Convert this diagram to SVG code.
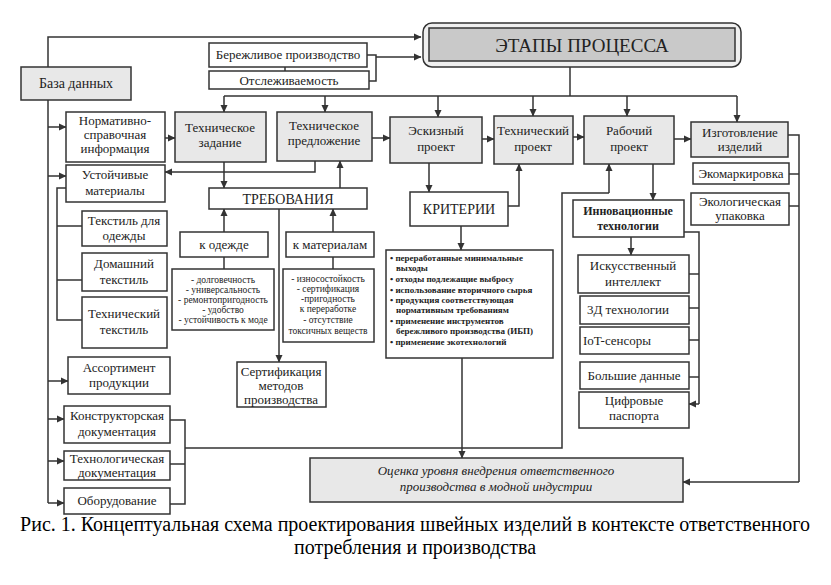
<svg xmlns="http://www.w3.org/2000/svg" width="831" height="585" viewBox="0 0 831 585">
<defs>
<marker id="ar" markerWidth="8" markerHeight="8" refX="7" refY="4" orient="auto" markerUnits="userSpaceOnUse">
<path d="M0,0.5 L7.5,4 L0,7.5 Z" fill="#333"/>
</marker>
<style>
rect{stroke:#333;stroke-width:1.5;fill:#fff}
.g{fill:#e8e8e8}
.c path,.c line,.c polyline{stroke:#333;stroke-width:1.5;fill:none}
.a{marker-end:url(#ar)}
text{font-family:'Liberation Serif', 'Times New Roman', serif;font-size:13px;fill:#222;text-anchor:middle}
.s{font-size:9.5px}
.k{font-size:9px;font-weight:bold;text-anchor:start}
.i{font-style:italic;font-size:13px}
.b{font-weight:bold;font-size:12px}
.cap{font-size:20px;fill:#000}
</style>
</defs>
<rect x="0" y="0" width="831" height="585" style="fill:#fff;stroke:none"/>

<g class="c" id="connectors">
<polyline class="a" points="48,67 48,37 421,37"/>
<polyline points="367,55 376,55 376,81 369,81"/>
<line class="a" x1="376" y1="57" x2="421" y2="57"/>
<line x1="285" y1="67" x2="285" y2="71"/>
<line x1="570" y1="67" x2="570" y2="96"/>
<line x1="224" y1="96" x2="737" y2="96"/>
<line class="a" x1="224" y1="96" x2="224" y2="112"/>
<line class="a" x1="325" y1="96" x2="325" y2="112"/>
<line class="a" x1="438" y1="96" x2="438" y2="117"/>
<line class="a" x1="533" y1="96" x2="533" y2="116"/>
<line class="a" x1="627" y1="96" x2="627" y2="116"/>
<line class="a" x1="737" y1="96" x2="737" y2="122"/>
<line class="a" x1="165" y1="138" x2="175" y2="138"/>
<line class="a" x1="372" y1="138" x2="390" y2="138"/>
<line class="a" x1="482" y1="139" x2="494" y2="139"/>
<line class="a" x1="573" y1="137" x2="584" y2="137"/>
<line class="a" x1="674" y1="139" x2="691" y2="139"/>
<line x1="48" y1="100" x2="48" y2="503"/>
<line class="a" x1="48" y1="127" x2="66" y2="127"/>
<line class="a" x1="48" y1="176" x2="66" y2="176"/>
<line class="a" x1="48" y1="381" x2="68" y2="381"/>
<line class="a" x1="48" y1="419" x2="64" y2="419"/>
<line class="a" x1="48" y1="461" x2="64" y2="461"/>
<line class="a" x1="48" y1="503" x2="64" y2="503"/>
<polyline points="66,188 57,188 57,320 82,320"/>
<line x1="57" y1="226" x2="82" y2="226"/>
<line x1="57" y1="280" x2="82" y2="280"/>
<line class="a" x1="224" y1="162" x2="224" y2="188"/>
<polyline class="a" points="315,161 315,172 165,172"/>
<line class="a" x1="340" y1="188" x2="340" y2="161"/>
<line class="a" x1="224" y1="232" x2="224" y2="209"/>
<line class="a" x1="333" y1="232" x2="333" y2="209"/>
<line x1="224" y1="257" x2="224" y2="269"/>
<line x1="333" y1="257" x2="333" y2="269"/>
<line class="a" x1="279" y1="209" x2="279" y2="362"/>
<line class="a" x1="429" y1="163" x2="429" y2="192"/>
<polyline class="a" points="508,206 519,206 519,164"/>
<line class="a" x1="461" y1="226" x2="461" y2="250"/>
<line class="a" x1="462" y1="358" x2="462" y2="458"/>
<polyline points="170,420 185,420 185,504 170,504"/>
<line x1="170" y1="464" x2="185" y2="464"/>
<polyline points="185,448 562,448 562,193 609,193"/>
<line class="a" x1="609" y1="193" x2="609" y2="164"/>
<line class="a" x1="653" y1="164" x2="653" y2="200"/>
<line class="a" x1="631" y1="237" x2="631" y2="255"/>
<polyline points="684,232 699,232 699,404"/>
<line class="a" x1="699" y1="404" x2="689" y2="404"/>
<line x1="689" y1="274" x2="699" y2="274"/>
<line x1="689" y1="308" x2="699" y2="308"/>
<line x1="689" y1="340" x2="699" y2="340"/>
<line x1="689" y1="377" x2="699" y2="377"/>
<polyline points="788,135 799,135 799,482"/>
<line class="a" x1="799" y1="482" x2="683" y2="482"/>
<line x1="789" y1="174" x2="799" y2="174"/>
<line x1="789" y1="206" x2="799" y2="206"/>
</g>

<g id="etapy">
<rect x="423" y="23" width="318" height="44" rx="9" style="fill:#efefef"/>
<rect x="429" y="28" width="306" height="33" style="fill:#c9c9c9"/>
<text x="582" y="52" style="font-size:19px">ЭТАПЫ ПРОЦЕССА</text>
</g>
<g id="baza"><rect class="g" x="21" y="67" width="110" height="33"/><text x="76" y="88" style="font-size:14px">База данных</text></g>
<g id="berezh"><rect x="209" y="43" width="158" height="24"/><text x="288" y="59">Бережливое производство</text></g>
<g id="otsl"><rect x="209" y="71" width="160" height="18"/><text x="289" y="85">Отслеживаемость</text></g>
<g id="norm"><rect x="66" y="112" width="99" height="50"/><text x="115" y="125">Нормативно-</text><text x="115" y="139">справочная</text><text x="115" y="153">информация</text></g>
<g id="tz"><rect class="g" x="175" y="112" width="91" height="50"/><text x="220" y="132">Техническое</text><text x="220" y="147">задание</text></g>
<g id="tp"><rect class="g" x="277" y="112" width="95" height="49"/><text x="324" y="130">Техническое</text><text x="324" y="145">предложение</text></g>
<g id="esk"><rect class="g" x="390" y="117" width="92" height="46"/><text x="436" y="135">Эскизный</text><text x="436" y="151">проект</text></g>
<g id="techpr"><rect class="g" x="494" y="116" width="79" height="48"/><text x="533" y="135">Технический</text><text x="533" y="151">проект</text></g>
<g id="rab"><rect class="g" x="584" y="116" width="90" height="48"/><text x="629" y="135">Рабочий</text><text x="629" y="151">проект</text></g>
<g id="izg"><rect class="g" x="691" y="122" width="97" height="35"/><text x="740" y="137">Изготовление</text><text x="740" y="151">изделий</text></g>
<g id="ekomark"><rect x="693" y="163" width="96" height="21"/><text x="741" y="178">Экомаркировка</text></g>
<g id="ekoup"><rect x="691" y="193" width="98" height="32"/><text x="740" y="206">Экологическая</text><text x="740" y="220">упаковка</text></g>
<g id="ustm"><rect x="66" y="165" width="99" height="37"/><text x="115" y="179">Устойчивые</text><text x="115" y="195">материалы</text></g>
<g id="tekstod"><rect x="82" y="211" width="85" height="35"/><text x="124" y="225">Текстиль для</text><text x="124" y="240">одежды</text></g>
<g id="domtek"><rect x="82" y="253" width="85" height="38"/><text x="124" y="268">Домашний</text><text x="124" y="284">текстиль</text></g>
<g id="tehtek"><rect x="82" y="297" width="85" height="51"/><text x="124" y="318">Технический</text><text x="124" y="334">текстиль</text></g>
<g id="assort"><rect x="68" y="357" width="102" height="37"/><text x="119" y="372">Ассортимент</text><text x="119" y="387">продукции</text></g>
<g id="konstr"><rect x="64" y="406" width="106" height="37"/><text x="117" y="420">Конструкторская</text><text x="117" y="436">документация</text></g>
<g id="tehnol"><rect x="64" y="451" width="106" height="29"/><text x="117" y="463">Технологическая</text><text x="117" y="477">документация</text></g>
<g id="obor"><rect x="64" y="488" width="106" height="26"/><text x="117" y="505">Оборудование</text></g>
<g id="treb"><rect x="209" y="188" width="158" height="21"/><text x="288" y="204" style="font-size:14px">ТРЕБОВАНИЯ</text></g>
<g id="kodezh"><rect x="180" y="232" width="88" height="25"/><text x="224" y="249">к одежде</text></g>
<g id="kmat"><rect x="286" y="232" width="88" height="25"/><text x="330" y="249">к материалам</text></g>
<g id="listod"><rect x="172" y="269" width="102" height="61"/>
<text class="s" x="223" y="283">- долговечность</text><text class="s" x="223" y="293">- универсальность</text><text class="s" x="223" y="303">- ремонтопригодность</text><text class="s" x="223" y="313">- удобство</text><text class="s" x="223" y="323">- устойчивость к моде</text></g>
<g id="listmat"><rect x="283" y="269" width="91" height="73"/>
<text class="s" x="328" y="282">- износостойкость</text><text class="s" x="328" y="292">- сертификация</text><text class="s" x="328" y="302">-пригодность</text><text class="s" x="328" y="312">к переработке</text><text class="s" x="328" y="323">- отсутствие</text><text class="s" x="328" y="334">токсичных веществ</text></g>
<g id="sert"><rect x="237" y="362" width="89" height="45"/><text x="281" y="376">Сертификация</text><text x="281" y="390">методов</text><text x="281" y="404">производства</text></g>
<g id="krit"><rect x="410" y="192" width="98" height="34"/><text x="459" y="214" style="font-size:14px">КРИТЕРИИ</text></g>
<g id="kritlist"><rect x="386" y="250" width="167" height="108"/>
<text class="k" x="390" y="261">•  переработанные минимальные</text>
<text class="k" x="396" y="271">выходы</text>
<text class="k" x="390" y="282">• отходы подлежащие выбросу</text>
<text class="k" x="390" y="293">• использование вторичного сырья</text>
<text class="k" x="390" y="303">• продукция соответствующая</text>
<text class="k" x="396" y="313">нормативным требованиям</text>
<text class="k" x="390" y="324">• применение инструментов</text>
<text class="k" x="396" y="334">бережливого производства (ИБП)</text>
<text class="k" x="390" y="345">• применение экотехнологий</text></g>
<g id="ocenka"><rect class="g" x="310" y="458" width="373" height="44"/><text class="i" x="496" y="475">Оценка уровня внедрения ответственного</text><text class="i" x="496" y="491">производства в модной индустрии</text></g>
<g id="innov"><rect x="573" y="200" width="111" height="37"/><text class="b" x="628" y="215">Инновационные</text><text class="b" x="628" y="230">технологии</text></g>
<g id="ii"><rect x="578" y="255" width="111" height="38"/><text x="633" y="270">Искусственный</text><text x="633" y="286">интеллект</text></g>
<g id="t3d"><rect x="580" y="296" width="109" height="28"/><text x="587" y="314" style="text-anchor:start">3Д технологии</text></g>
<g id="iot"><rect x="580" y="327" width="109" height="27"/><text x="583" y="345" style="text-anchor:start">IoT-сенсоры</text></g>
<g id="bd"><rect x="580" y="362" width="109" height="27"/><text x="634" y="380">Большие данные</text></g>
<g id="cifr"><rect x="579" y="392" width="110" height="36"/><text x="634" y="405">Цифровые</text><text x="634" y="420">паспорта</text></g>

<g id="caption">
<text class="cap" x="415" y="531">Рис. 1. Концептуальная схема проектирования швейных изделий в контексте ответственного</text>
<text class="cap" x="415" y="554">потребления и производства</text>
</g>
</svg>
